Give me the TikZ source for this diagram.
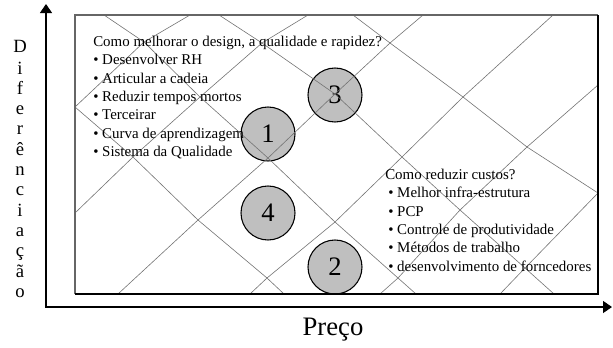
\documentclass[tikz,border=0pt]{standalone}
\usepackage{fontspec}
\setmainfont{Liberation Serif}
\usetikzlibrary{arrows.meta}
\begin{document}
\begin{tikzpicture}[x=0.75pt,y=-0.75pt,
    grade/.style={black!55,line width=0.45pt},
    bola/.style={circle,draw=black,line width=0.8pt,fill=black!25,
      minimum size=40.5pt,inner sep=0pt,font=\fontsize{20}{24}\selectfont},
    texto/.style={anchor=base west,inner sep=0pt,font=\fontsize{11.2}{13}\selectfont},
    letra/.style={anchor=base,inner sep=0pt,font=\fontsize{14}{16}\selectfont},
    seta/.style={line width=1pt,{Triangle[length=6.75pt,width=9pt]}-{Triangle[length=6.75pt,width=9pt]}}]
  \useasboundingbox (0,0) rectangle (613,347);

  % eixos
  \coordinate (ytop) at (46,4);
  \coordinate (O) at (46,307);
  \coordinate (xend) at (612,307);
  \draw[seta] (ytop) -- (O) -- (xend);

  % bolas
  \node[bola] (b1) at (268,134) {1};
  \node[bola] (b3) at (335,95) {3};
  \node[bola] (b4) at (268,213) {4};
  \node[bola] (b2) at (335,267) {2};

  % grade em losango
  \foreach \n/\x/\y in {T0/104/15, T1/190/15, T2/219/15, T3/308/15, T4/353/15, T5/423/15, T7/553/15,
      A1/144/42, A3/262/43, A5/390/43,
      B0/75/107, B2/200/97, B4/335/94, B6/463/97, B8/598/85,
      C1/133/157, C3/268/158, C5/402/157, C7/527/147,
      D0/75/213, D2/198/220, D4/335/222, D6/460/210, D8/598/193,
      E3/267/278, E5/398/278, E7/525/268,
      Z1/118/294, Z2/250/294, Z3/284/294, Z4/380/294, Z5/416/294, Z6/500/294, Z7/554/294}
    \coordinate (\n) at (\x,\y);
  \draw[grade] (T0) -- (A1) -- (B2) -- (C3) -- (D4) -- (E5) -- (Z5);
  \draw[grade] (T2) -- (A3) -- (B4) -- (C5) -- (D6) -- (E7) -- (Z7);
  \draw[grade] (T4) -- (A5) -- (B6) -- (C7) -- (D8);
  \draw[grade] (B0) -- (C1) -- (D2) -- (E3) -- (Z3);
  \draw[grade] (B0) -- (A1) -- (T1);
  \draw[grade] (D0) -- (C1) -- (B2) -- (A3) -- (T3);
  \draw[grade] (Z1) -- (D2) -- (C3) -- (B4) -- (A5) -- (T5);
  \draw[grade] (Z2) -- (E3) -- (D4) -- (C5) -- (B6) -- (T7);
  \draw[grade] (Z4) -- (E5) -- (D6) -- (C7) -- (B8);
  \draw[grade] (Z6) -- (E7) -- (D8);

  % moldura
  \coordinate (fNW) at (75,15);
  \coordinate (fNE) at (598,15);
  \coordinate (fSE) at (598,294);
  \coordinate (fSW) at (75,294);
  \draw[black!60,line width=1pt] (fSW) -- (fNW) -- (fNE);
  \draw[line width=1.2pt] (fNE) -- (fSE) -- (fSW);

  % textos
  \node[texto] (q1) at (93,46.5) {Como melhorar o design, a qualidade e rapidez?};
  \foreach \t [count=\i] in {Desenvolver RH, Articular a cadeia, Reduzir tempos mortos,
      Terceirar, Curva de aprendizagem, Sistema da Qualidade}
    \node[texto] (q1\i) at ({93},{46.5+18.3*\i}) {\textbullet\ \t};

  \node[texto] (q2) at (385,179.5) {Como reduzir custos?};
  \foreach \t [count=\i] in {Melhor infra-estrutura, PCP, Controle de produtividade,
      Métodos de trabalho, desenvolvimento de forncedores}
    \node[texto] (q2\i) at ({388},{179.5+18.3*\i}) {\textbullet\ \t};

  % rotulos dos eixos
  \node[letra] (d0) at (20,52) {D};
  \foreach \l [count=\i] in {i,f,e,r,ê,n,c,i,a,ç,ã,o}
    \node[letra] (d\i) at ({20},{74+20.3*(\i-1)}) {\l};
  \node[anchor=base,inner sep=0pt,font=\fontsize{20}{24}\selectfont] (preco) at (333,335) {Preço};
\end{tikzpicture}
\end{document}
